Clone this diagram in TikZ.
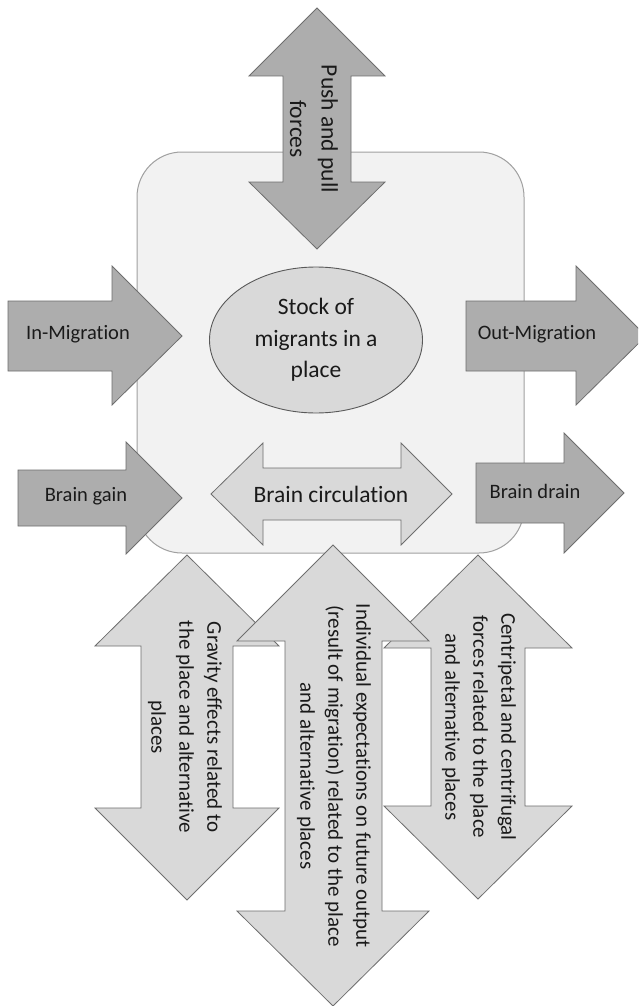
\documentclass[tikz,border=0pt]{standalone}
\usepackage{fontspec}
\setmainfont{Carlito}[Ligatures=NoCommon]
\usetikzlibrary{shapes.geometric}
\definecolor{darkfill}{HTML}{ADADAD}
\definecolor{lightfill}{HTML}{D9D9D9}
\definecolor{boxfill}{HTML}{F2F2F2}
\definecolor{boxline}{HTML}{A0A0A0}
\definecolor{arrowline}{HTML}{6E6E6E}
\definecolor{ellline}{HTML}{595959}
\definecolor{txt}{HTML}{1A1A1A}
\begin{document}
\begin{tikzpicture}[x=1pt,y=-1pt,
  darkarrow/.style={fill=darkfill,draw=arrowline,line width=0.8pt},
  lightarrow/.style={fill=lightfill,draw=arrowline,line width=0.8pt},
  sidelbl/.style={text=txt,font=\fontsize{20.5}{25}\selectfont,inner sep=0pt},
  biglbl/.style={text=txt,font=\fontsize{23.5}{31.5}\selectfont,align=center,inner sep=0pt},
  vertlbl/.style={text=txt,font=\fontsize{21}{28}\selectfont,align=center,rotate=-90,inner sep=0pt}]
\clip (0,0) rectangle (638,1006);
\fill[white] (0,0) rectangle (638,1006);
% place box
\draw[fill=boxfill,draw=boxline,line width=1pt,rounded corners=45pt] (137,152) rectangle (524,553);
% stock ellipse
\node[ellipse,fill=lightfill,draw=ellline,line width=0.9pt,minimum width=213pt,minimum height=146pt,biglbl] (stock) at (316,340) {Stock of\\migrants in a\\place};
% push and pull
\draw[darkarrow] (317,8) -- (385,76) -- (351,76) -- (351,182) -- (385,182) -- (317,249) -- (249,182) -- (283,182) -- (283,76) -- (249,76) -- cycle;
\node[biglbl,rotate=-90] (push) at (314,129) {Push and pull\\forces};
% in-migration
\draw[darkarrow] (8,301) -- (112,301) -- (112,266) -- (182,336) -- (112,405) -- (112,371) -- (8,371) -- cycle;
\node[sidelbl] (inm) at (78,334) {In-Migration};
% out-migration
\draw[darkarrow] (466,301) -- (576,301) -- (576,266) -- (646,336) -- (576,405) -- (576,371) -- (466,371) -- cycle;
\node[sidelbl] (outm) at (537,334) {Out-Migration};
% brain gain
\draw[darkarrow] (18,470) -- (126,470) -- (126,442) -- (182,498) -- (126,554) -- (126,526) -- (18,526) -- cycle;
\node[sidelbl] (gain) at (86,496) {Brain gain};
% brain drain
\draw[darkarrow] (476,463) -- (564,463) -- (564,433) -- (624,493) -- (564,553) -- (564,523) -- (476,523) -- cycle;
\node[sidelbl] (drain) at (535,491) {Brain drain};
% brain circulation
\draw[lightarrow] (211,494) -- (263,443) -- (263,468) -- (401,468) -- (401,443) -- (452,494) -- (401,545) -- (401,520) -- (263,520) -- (263,545) -- cycle;
\node[biglbl] (circ) at (331,494) {Brain circulation};
% gravity
\draw[lightarrow] (187,555) -- (279,646) -- (233,646) -- (233,808) -- (279,808) -- (187,900) -- (95,808) -- (141,808) -- (141,646) -- (95,646) -- cycle;
\node[vertlbl] (grav) at (185,727) {Gravity effects related to\\the place and alternative\\places};
% centripetal
\draw[lightarrow] (478,555) -- (572,648) -- (525,648) -- (525,806) -- (572,806) -- (478,899) -- (384,806) -- (431,806) -- (431,648) -- (384,648) -- cycle;
\node[vertlbl] (centri) at (479,727) {Centripetal and centrifugal\\forces related to the place\\and alternative places};
% individual
\draw[lightarrow] (333,545) -- (429,641) -- (382,641) -- (382,911) -- (429,911) -- (333,1006) -- (237,911) -- (285,911) -- (285,641) -- (237,641) -- cycle;
\node[vertlbl] (indiv) at (334,776) {Individual expectations on future output\\(result of migration) related to the place\\and alternative places};
\end{tikzpicture}
\end{document}
